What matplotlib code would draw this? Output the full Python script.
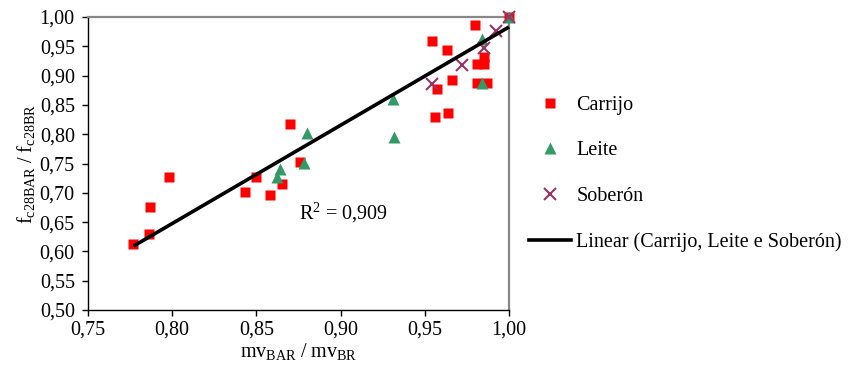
import numpy as np
import matplotlib.pyplot as plt
from matplotlib.lines import Line2D

plt.rcParams['font.family'] = ['Liberation Serif', 'DejaVu Serif']
plt.rcParams['mathtext.fontset'] = 'custom'
plt.rcParams['mathtext.rm'] = 'Liberation Serif'
plt.rcParams['mathtext.it'] = 'Liberation Serif:italic'

# mv ratio (x) and strength ratio (y) per source
carrijo_x = [0.777, 0.786, 0.787, 0.798, 0.843, 0.850, 0.858, 0.865, 0.870, 0.876,
             0.954, 0.963, 0.966, 0.957, 0.956, 0.964, 0.980, 0.981, 0.985, 0.985,
             0.981, 0.987, 1.000]
carrijo_y = [0.612, 0.630, 0.676, 0.727, 0.701, 0.727, 0.697, 0.715, 0.817, 0.752,
             0.959, 0.944, 0.892, 0.877, 0.830, 0.836, 0.986, 0.920, 0.932, 0.920,
             0.887, 0.887, 1.000]

leite_x = [0.864, 0.862, 0.880, 0.878, 0.931, 0.932, 0.984, 0.984, 1.000]
leite_y = [0.740, 0.727, 0.802, 0.751, 0.860, 0.795, 0.962, 0.887, 1.000]

soberon_x = [0.954, 0.972, 0.985, 0.992, 1.000]
soberon_y = [0.886, 0.918, 0.947, 0.976, 1.000]

# linear trendline (Carrijo, Leite e Soberón) end points
trend_x = [0.777, 1.000]
trend_y = [0.609, 0.983]
r2_label = "R$^2$ = 0,909"

fs = 14.5
fig = plt.figure(figsize=(8.52, 3.72), dpi=100)
ax = fig.add_axes([88 / 852, 1 - 310 / 372, 421 / 852, 293 / 372])

ax.plot(carrijo_x, carrijo_y, ls='none', marker='s', ms=7.5, color='#ff0000',
        mec='none', clip_on=False, zorder=3)
ax.plot(leite_x, leite_y, ls='none', marker='^', ms=9, color='#339966',
        mec='none', clip_on=False, zorder=3)
ax.plot(soberon_x, soberon_y, ls='none', marker='x', ms=8, mew=1.5,
        color='#993366', clip_on=False, zorder=3)
ax.plot(trend_x, trend_y, color='black', lw=2.6, zorder=4,
        solid_capstyle='butt', clip_on=False)

ax.text(0.8753, 0.6655, r2_label, fontsize=fs, va='center', ha='left')

ax.set_xlim(0.75, 1.0)
ax.set_ylim(0.5, 1.0)
xt = np.arange(0.75, 1.001, 0.05)
yt = np.arange(0.50, 1.001, 0.05)
ax.set_xticks(xt)
ax.set_yticks(yt)
ax.set_xticklabels([f"{v:.2f}".replace('.', ',') for v in xt])
ax.set_yticklabels([f"{v:.2f}".replace('.', ',') for v in yt])
ax.tick_params(direction='out', length=4.5, width=1, labelsize=fs, color='black')
ax.tick_params(axis='x', pad=3)
ax.tick_params(axis='y', pad=5)

for side in ['left', 'bottom']:
    ax.spines[side].set_color('black')
    ax.spines[side].set_linewidth(1)
for side in ['top', 'right']:
    ax.spines[side].set_color('#888888')
    ax.spines[side].set_linewidth(1.6)

ax.set_xlabel(r'$\mathregular{mv_{BAR}\ /\ mv_{BR}}$', fontsize=fs, labelpad=1)
ax.set_ylabel(r'$\mathregular{f_{c28BAR}\ /\ f_{c28BR}}$', fontsize=fs, labelpad=2)

handles = [
    Line2D([], [], ls='none', marker='s', ms=7, color='#ff0000', mec='none'),
    Line2D([], [], ls='none', marker='^', ms=8.5, color='#339966', mec='none'),
    Line2D([], [], ls='none', marker='x', ms=8, mew=1.5, color='#993366'),
    Line2D([], [], color='black', lw=2.6),
]
labels = ['Carrijo', 'Leite', 'Soberón', 'Linear (Carrijo, Leite e Soberón)']
ax.legend(handles, labels, loc='upper left', bbox_to_anchor=(529 / 852, 1 - 96 / 372),
          bbox_transform=fig.transFigure, frameon=False, fontsize=fs,
          borderpad=0, borderaxespad=0, handlelength=2.1, handletextpad=0.25,
          labelspacing=1.3)

fig.savefig('out.png', dpi=100)
